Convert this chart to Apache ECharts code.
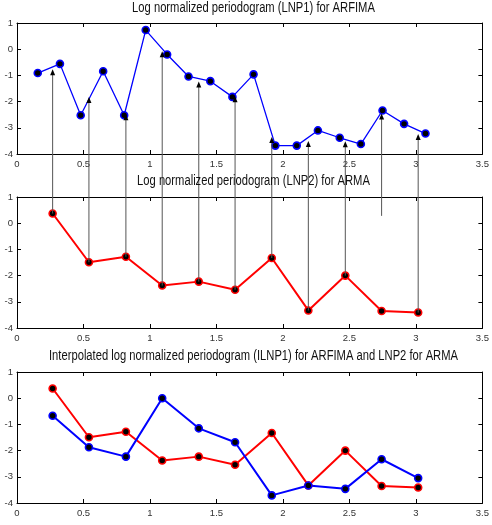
<!DOCTYPE html>
<html><head><meta charset="utf-8">
<script src="https://cdn.jsdelivr.net/npm/echarts@6/dist/echarts.min.js"></script>
<style>html,body{margin:0;padding:0;background:#fff}#c{width:492px;height:525px}</style>
</head><body><div id="c"></div>
<script>
const titles = [
  'Log normalized periodogram (LNP1) for ARFIMA',
  'Log normalized periodogram (LNP2) for ARMA',
  'Interpolated log normalized periodogram (ILNP1) for ARFIMA and LNP2 for ARMA'
];
// LNP1 (ARFIMA) frequencies and values
const lnp1X = [0.156,0.323,0.479,0.648,0.806,0.968,1.129,1.290,1.454,1.620,1.779,1.943,2.104,2.263,2.427,2.586,2.749,2.911,3.072];
const lnp1Y = [-0.91,-0.56,-2.52,-0.84,-2.52,0.73,-0.20,-1.04,-1.22,-1.82,-0.96,-3.68,-3.68,-3.10,-3.38,-3.62,-2.34,-2.85,-3.22];
// LNP2 (ARMA) frequencies and values
const lnp2X = [0.268,0.541,0.819,1.092,1.367,1.640,1.916,2.191,2.469,2.742,3.017];
const lnp2Y = [0.37,-1.49,-1.28,-2.38,-2.23,-2.54,-1.33,-3.33,-2.00,-3.35,-3.41];
// Interpolated LNP1 at LNP2 frequencies
const ilnp1Y = [-0.67,-1.87,-2.23,0.00,-1.15,-1.68,-3.71,-3.33,-3.46,-2.33,-3.05];
// arrows: tip value in top panel, start value in middle panel
const arrowTipY  = [-0.77,-1.82,-2.48,-0.08,-1.23,-1.80,-3.35,-3.50,-3.51,-2.45,-3.24];
const arrowBaseY = [0.37,-1.49,-1.28,-2.38,-2.23,-2.54,-1.33,-3.33,-2.00,0.28,-3.41];

const FONT = "'Liberation Sans',Arial,sans-serif";
const BLUE = '#0000ff', RED = '#ff0000';
const gridTops = [23, 197, 372];
const titleY = [8, 181, 356];

const chart = echarts.init(document.getElementById('c'));

const grids = gridTops.map(t => ({left:17, right:2, top:t, height:131}));
const lineAx = {show:true, onZero:false, lineStyle:{color:'#000', width:1}};
const tickAx = {show:true, inside:true, length:4, lineStyle:{color:'#000', width:1}};
const xAxis = [], yAxis = [];
gridTops.forEach((t, i) => {
  xAxis.push({gridIndex:i, type:'value', min:0, max:3.5, interval:0.5, position:'bottom',
    axisLine:lineAx, axisTick:tickAx, splitLine:{show:false},
    axisLabel:{margin:5, fontSize:9.5, color:'#333', fontFamily:FONT}});
  xAxis.push({gridIndex:i, type:'value', min:0, max:3.5, interval:0.5, position:'top',
    axisLine:lineAx, axisTick:tickAx, splitLine:{show:false}, axisLabel:{show:false}});
  yAxis.push({gridIndex:i, type:'value', min:-4, max:1, interval:1, position:'left',
    axisLine:lineAx, axisTick:tickAx, splitLine:{show:false},
    axisLabel:{margin:4, fontSize:9.5, color:'#333', fontFamily:FONT}});
  yAxis.push({gridIndex:i, type:'value', min:-4, max:1, interval:1, position:'right',
    axisLine:lineAx, axisTick:tickAx, splitLine:{show:false}, axisLabel:{show:false}});
});

function pairs(xs, ys){ return xs.map((x, k) => [x, ys[k]]); }
function ser(xi, data, color, w, size){
  return {type:'line', xAxisIndex:xi, yAxisIndex:xi, data:data, symbol:'circle', symbolSize:size,
    showSymbol:true, animation:false, silent:true, z:3,
    lineStyle:{color:color, width:w},
    itemStyle:{color:'#000', borderColor:color, borderWidth:1.6}};
}

const series = [
  ser(0, pairs(lnp1X, lnp1Y), BLUE, 1.3, 7),
  ser(2, pairs(lnp2X, lnp2Y), RED, 2, 7),
  ser(4, pairs(lnp2X, lnp2Y), RED, 2, 7),
  ser(4, pairs(lnp2X, ilnp1Y), BLUE, 2, 7)
];

chart.setOption({
  backgroundColor:'#fff',
  animation:false,
  grid:grids, xAxis:xAxis, yAxis:yAxis, series:series
});

const titleEls = titles.map((t, i) => ({type:'text', x:253.5, y:titleY[i], z:10, scaleX:0.8,
    style:{text:t, textAlign:'center', textVerticalAlign:'middle', fill:'#111',
      font:"14px " + FONT}}));

// arrows from LNP2 points (middle panel) up to interpolated LNP1 values (top panel)
const arrows = [];
lnp2X.forEach((x, k) => {
  const tip = chart.convertToPixel({xAxisIndex:0, yAxisIndex:0}, [x, arrowTipY[k]]);
  const base = chart.convertToPixel({xAxisIndex:2, yAxisIndex:2}, [x, arrowBaseY[k]]);
  arrows.push({type:'line', z:5, silent:true,
    shape:{x1:tip[0], y1:tip[1] + 4, x2:base[0], y2:base[1]},
    style:{stroke:'#555', lineWidth:1}});
  arrows.push({type:'polygon', z:6, silent:true,
    shape:{points:[[tip[0], tip[1]], [tip[0] - 2.5, tip[1] + 6], [tip[0] + 2.5, tip[1] + 6]]},
    style:{fill:'#000'}});
});
chart.setOption({graphic: titleEls.concat(arrows)});
</script>
</body></html>
